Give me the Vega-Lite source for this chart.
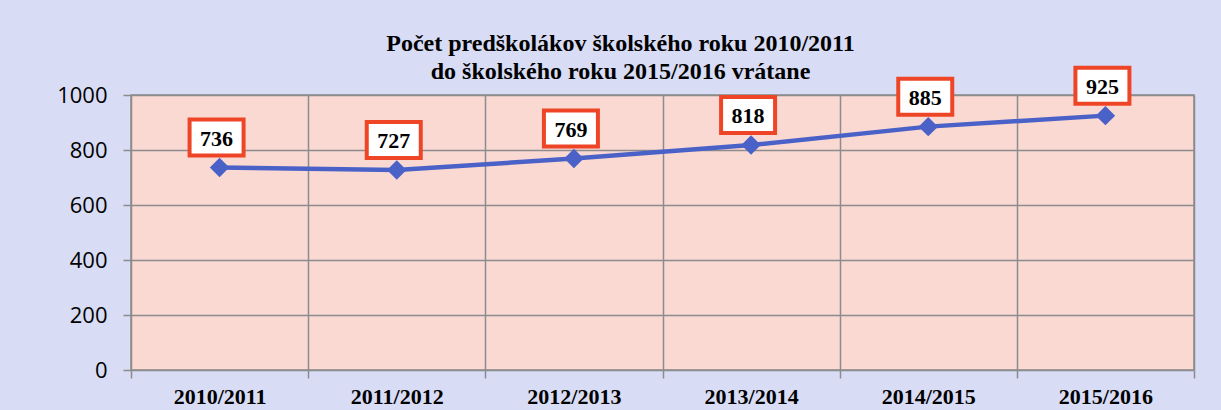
{
  "$schema": "https://vega.github.io/schema/vega-lite/v6.json",
  "width": 1063,
  "height": 275,
  "autosize": "none",
  "padding": {"left": 131, "top": 95, "right": 27, "bottom": 40},
  "background": "#d8dcf5",
  "title": {
    "text": ["Počet predškolákov školského roku 2010/2011", "do školského roku 2015/2016 vrátane"],
    "font": "Liberation Serif",
    "fontSize": 24,
    "fontWeight": "bold",
    "color": "#000000",
    "lineHeight": 28,
    "anchor": "middle",
    "dx": -42,
    "dy": 34,
    "offset": 10
  },
  "config": {
    "view": {"fill": "#fbd9d3", "stroke": "#8c8c8c", "strokeWidth": 1.5},
    "axis": {"domain": false, "gridColor": "#8c8c8c", "gridWidth": 1.5, "gridOpacity": 1, "tickColor": "#8c8c8c", "tickWidth": 1.5, "tickSize": 8, "title": null}
  },
  "data": {
    "values": [
      {"rok": "2010/2011", "pocet": 736},
      {"rok": "2011/2012", "pocet": 727},
      {"rok": "2012/2013", "pocet": 769},
      {"rok": "2013/2014", "pocet": 818},
      {"rok": "2014/2015", "pocet": 885},
      {"rok": "2015/2016", "pocet": 925}
    ]
  },
  "encoding": {
    "x": {
      "field": "rok",
      "type": "nominal",
      "sort": null,
      "scale": {"type": "band", "paddingInner": 0, "paddingOuter": 0},
      "axis": {
        "labelAngle": 0,
        "tickBand": "extent",
        "grid": true,
        "labelFont": "Liberation Serif",
        "labelFontWeight": "bold",
        "labelFontSize": 22,
        "labelColor": "#000000",
        "labelPadding": 8
      }
    },
    "y": {
      "field": "pocet",
      "type": "quantitative",
      "scale": {"domain": [0, 1000], "nice": false},
      "axis": {
        "values": [0, 200, 400, 600, 800, 1000],
        "format": "d",
        "grid": true,
        "labelFont": "Open Sans",
        "labelFontSize": 22,
        "labelColor": "#000000",
        "labelPadding": 16
      }
    }
  },
  "layer": [
    {
      "mark": {"type": "line", "color": "#4a62c8", "strokeWidth": 4.5, "point": {"shape": "diamond", "size": 380, "color": "#4a62c8", "filled": true}}
    },
    {
      "mark": {
        "type": "point",
        "shape": "M-1.5,-1L1.5,-1L1.5,1L-1.5,1Z",
        "size": 1296,
        "filled": true,
        "fill": "#ffffff",
        "stroke": "#ee4526",
        "strokeWidth": 4,
        "opacity": 1,
        "yOffset": -30,
        "xOffset": -3
      }
    },
    {
      "mark": {
        "type": "text",
        "font": "Liberation Serif",
        "fontWeight": "bold",
        "fontSize": 22,
        "color": "#000000",
        "baseline": "middle",
        "dy": -29,
        "dx": -3
      },
      "encoding": {"text": {"field": "pocet", "type": "quantitative"}}
    }
  ]
}
